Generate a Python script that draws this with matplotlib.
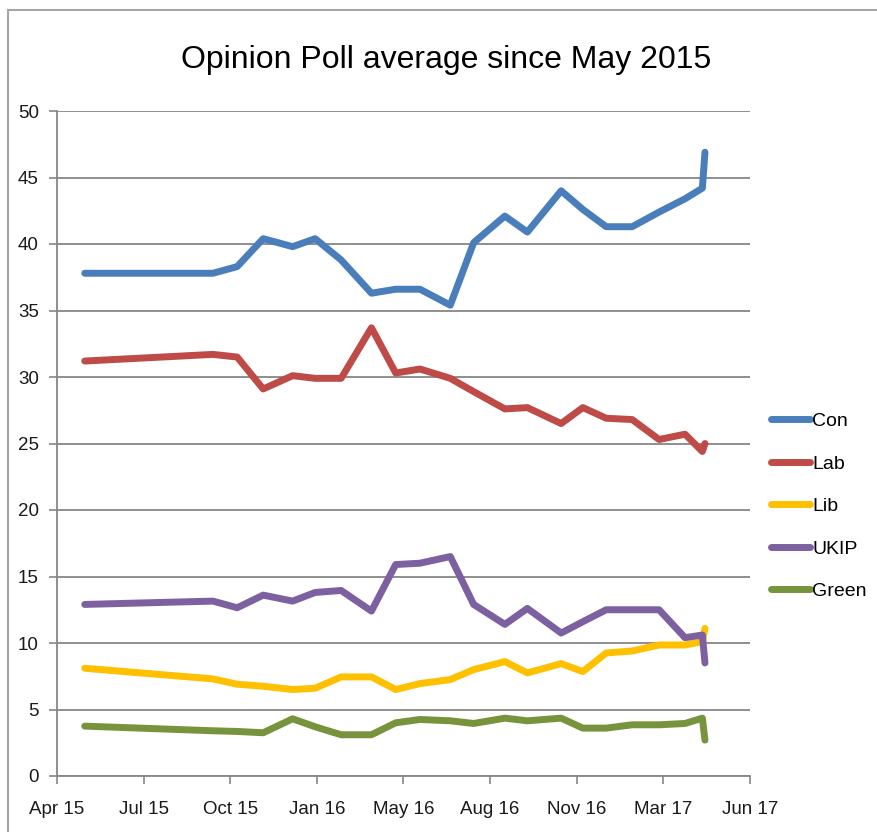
import datetime as dt
import matplotlib
matplotlib.use("Agg")
import matplotlib.pyplot as plt
import matplotlib.dates as mdates
from matplotlib.lines import Line2D

# Poll dates (monthly averages since the May 2015 election)
dates = ["2015-05-07", "2015-10-02", "2015-10-30", "2015-11-29", "2016-01-02",
         "2016-01-28", "2016-02-27", "2016-04-02", "2016-04-30", "2016-05-28",
         "2016-07-02", "2016-07-29", "2016-09-03", "2016-09-29", "2016-11-07",
         "2016-12-02", "2016-12-29", "2017-01-28", "2017-02-28", "2017-03-30",
         "2017-04-19", "2017-04-22"]

con = [37.8, 37.8, 38.3, 40.4, 39.8, 40.4, 38.8, 36.3, 36.6, 36.6, 35.4,
       40.1, 42.1, 40.9, 44.0, 42.6, 41.3, 41.3, 42.4, 43.4, 44.2, 46.9]
lab = [31.2, 31.7, 31.5, 29.1, 30.1, 29.9, 29.9, 33.7, 30.3, 30.6, 29.9,
       28.9, 27.6, 27.7, 26.5, 27.7, 26.9, 26.8, 25.3, 25.7, 24.4, 25.0]
lib = [8.1, 7.3, 6.9, 6.75, 6.5, 6.6, 7.45, 7.45, 6.5, 6.95, 7.25,
       8.0, 8.6, 7.75, 8.45, 7.85, 9.25, 9.4, 9.85, 9.85, 10.1, 11.1]
ukip = [12.9, 13.15, 12.65, 13.6, 13.15, 13.8, 13.95, 12.4, 15.9, 16.0, 16.5,
        12.9, 11.4, 12.6, 10.75, 11.6, 12.5, 12.5, 12.5, 10.4, 10.6, 8.5]
green = [3.75, 3.4, 3.35, 3.25, 4.3, 3.7, 3.1, 3.1, 4.0, 4.25, 4.15,
         3.95, 4.35, 4.15, 4.35, 3.6, 3.6, 3.85, 3.85, 3.95, 4.35, 2.7]

series_names = ["Con", "Lab", "Lib", "UKIP", "Green"]
series_colors = ["#4A7EBB", "#BE4B48", "#FFC000", "#7D60A0", "#77933C"]

# Date axis: starts 5 Apr 2015, a major tick every 100 days
axis_start = dt.date(2015, 4, 5)
tick_step_days = 100
n_ticks = 9
tick_labels = ["Apr 15", "Jul 15", "Oct 15", "Jan 16", "May 16",
               "Aug 16", "Nov 16", "Mar 17", "Jun 17"]

y_ticks = list(range(0, 51, 5))

FONT = ["Liberation Sans Narrow", "DejaVu Sans Condensed", "Liberation Sans", "DejaVu Sans"]
plt.rcParams["font.family"] = FONT

fig = plt.figure(figsize=(8.77, 8.32), dpi=100)
ax = fig.add_axes([57 / 877, 56 / 832, (750 - 57) / 877, 665 / 832])

x = [mdates.date2num(dt.date.fromisoformat(d)) for d in dates]
for name, vals, col in zip(series_names, [con, lab, lib, ukip, green], series_colors):
    ax.plot(x, vals, color=col, lw=5.0, solid_joinstyle="round",
            solid_capstyle="round", label=name, zorder=3)

x0 = mdates.date2num(axis_start)
ticks = [x0 + i * tick_step_days for i in range(n_ticks)]
ax.set_xlim(ticks[0], ticks[-1])
ax.set_xticks(ticks)
ax.set_xticklabels(tick_labels)
ax.set_ylim(0, 50)
ax.set_yticks(y_ticks)

grid_col = "#868686"
ax.yaxis.grid(True, color=grid_col, lw=1.3)
ax.set_axisbelow(True)
for side in ["top", "right"]:
    ax.spines[side].set_visible(False)
for side in ["left", "bottom"]:
    ax.spines[side].set_color(grid_col)
    ax.spines[side].set_linewidth(1.3)
ax.tick_params(axis="both", direction="out", length=6, width=1.2,
               color=grid_col, labelsize=13.5, labelcolor="#1a1a1a")
ax.tick_params(axis="x", pad=12)
ax.tick_params(axis="y", pad=7)

fig.text(446 / 877, 1 - 60 / 832, "Opinion Poll average since May 2015",
         ha="center", va="center", fontsize=23, color="black")

handles = [Line2D([0], [0], color=c, lw=5.0, solid_capstyle="round") for c in series_colors]
leg = fig.legend(handles, series_names, loc="upper left",
                 bbox_to_anchor=(757 / 877, 1 - 399 / 832), frameon=False,
                 fontsize=14, handlelength=2.0, handletextpad=0.15,
                 labelspacing=1.28, borderpad=0.2)

# Outer chart-area border (left and top edges)
fig.add_artist(Line2D([8 / 877, 8 / 877], [0, 1 - 10 / 832], color="#A6A6A6", lw=1.5))
fig.add_artist(Line2D([8 / 877, 1], [1 - 10 / 832, 1 - 10 / 832], color="#A6A6A6", lw=1.5))

fig.savefig("out.png", dpi=100, facecolor="white")
